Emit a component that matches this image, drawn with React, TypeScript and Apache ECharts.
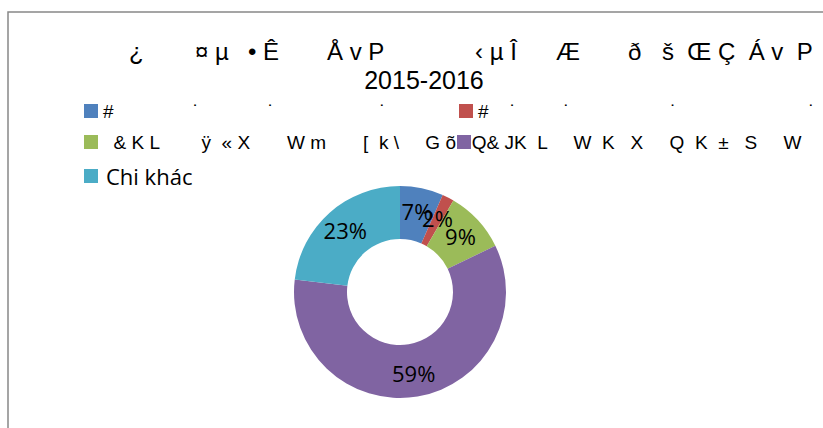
import React, { useEffect, useRef } from "react";
import * as echarts from "echarts";

const sp = (n: number) => " ".repeat(n);

const blueName = "#" + sp(15) + "˙" + sp(13) + "˙" + sp(20) + "˙";
const redName = "#" + sp(4) + "˙" + sp(9) + "˙" + sp(19) + "˙" + sp(25) + "˙";
const greenName =
  sp(2) + "&" + sp(1) + "K" + sp(1) + "L" + sp(8) + "ÿ" + sp(2) + "«" + sp(1) + "X" + sp(7) +
  "W" + sp(1) + "m" + sp(7) + "[" + sp(2) + "k" + sp(1) + "\\" + sp(5) + "G" + sp(1) + "õ" + sp(3) + "Q";
const purpleName =
  sp(2) + "&" + sp(1) + "JK" + sp(2) + "L" + sp(5) + "W" + sp(2) + "K" + sp(3) + "X" + sp(5) +
  "Q" + sp(2) + "K" + sp(2) + "±" + sp(3) + "S" + sp(5) + "W";
const cyanName = "Chi khác";

const categories = [blueName, redName, greenName, purpleName, cyanName];
const values = [6.6, 1.8, 9.4, 59.1, 23.1];
const colors = ["#4F81BD", "#C0504D", "#9BBB59", "#8064A2", "#4BACC6"];

const titleGroups = ["¿", "¤ µ", "• Ê", "Å v P", "‹ µ Î", "Æ", "ð", "š  Œ Ç  Á v  P"];
const titleX = [129, 195, 248, 327, 475, 556, 628, 662];
const subtitle = "2015-2016";

export default function App() {
  const ref = useRef<HTMLDivElement>(null);
  useEffect(() => {
    if (!ref.current) return;
    const chart = echarts.init(ref.current, null, { renderer: "svg" });
    const legendLeft = [84, 459, 84, 457, 84];
    const legendTop = [101, 101, 132, 132, 165];
    const graphics: any[] = [
      {
        type: "rect",
        z: -10,
        shape: { x: 8, y: 12, width: 900, height: 500 },
        style: { fill: "#fff", stroke: "#888", lineWidth: 1.5 },
      },
      ...titleGroups.map((t, i) => ({
        type: "text",
        x: titleX[i],
        y: 51,
        style: {
          text: t,
          font: '24px "Liberation Sans"',
          fill: "#000",
          verticalAlign: "middle",
        },
      })),
      {
        type: "text",
        x: 424,
        y: 80,
        style: {
          text: subtitle,
          font: '25px "Liberation Sans"',
          fill: "#000",
          align: "center",
          verticalAlign: "middle",
        },
      },
    ];
    chart.setOption({
      animation: false,
      color: colors,
      graphic: graphics,
      legend: categories.map((name, i) => ({
        data: [name],
        left: legendLeft[i],
        top: legendTop[i],
        padding: 0,
        itemWidth: 14,
        itemHeight: 14,
        itemGap: 5,
        icon: "rect",
        selectedMode: false,
        textStyle: {
          fontFamily: i === 4 ? "Open Sans" : "Liberation Sans",
          fontSize: i === 4 ? 22 : 19,
          lineHeight: 20,
          padding: i === 4 ? [0, 0, 0, 3] : 0,
          color: "#000",
        },
      })),
      series: [
        {
          type: "pie",
          center: [400, 292],
          radius: [53, 106],
          startAngle: 90,
          clockwise: true,
          avoidLabelOverlap: false,
          itemStyle: { borderWidth: 0 },
          label: {
            show: true,
            position: "inside",
            fontFamily: "Open Sans",
            fontSize: 22,
            color: "#000",
            formatter: (p: any) => Math.round(p.percent) + "%",
          },
          labelLayout: { hideOverlap: false },
          labelLine: { show: false },
          emphasis: { disabled: true },
          data: categories.map((name, i) => ({ name, value: values[i] })),
        },
      ],
    });
    return () => chart.dispose();
  }, []);
  return (
    <div
      ref={ref}
      style={{ position: "fixed", left: 0, top: 0, width: 823, height: 428, background: "#fff" }}
    />
  );
}
